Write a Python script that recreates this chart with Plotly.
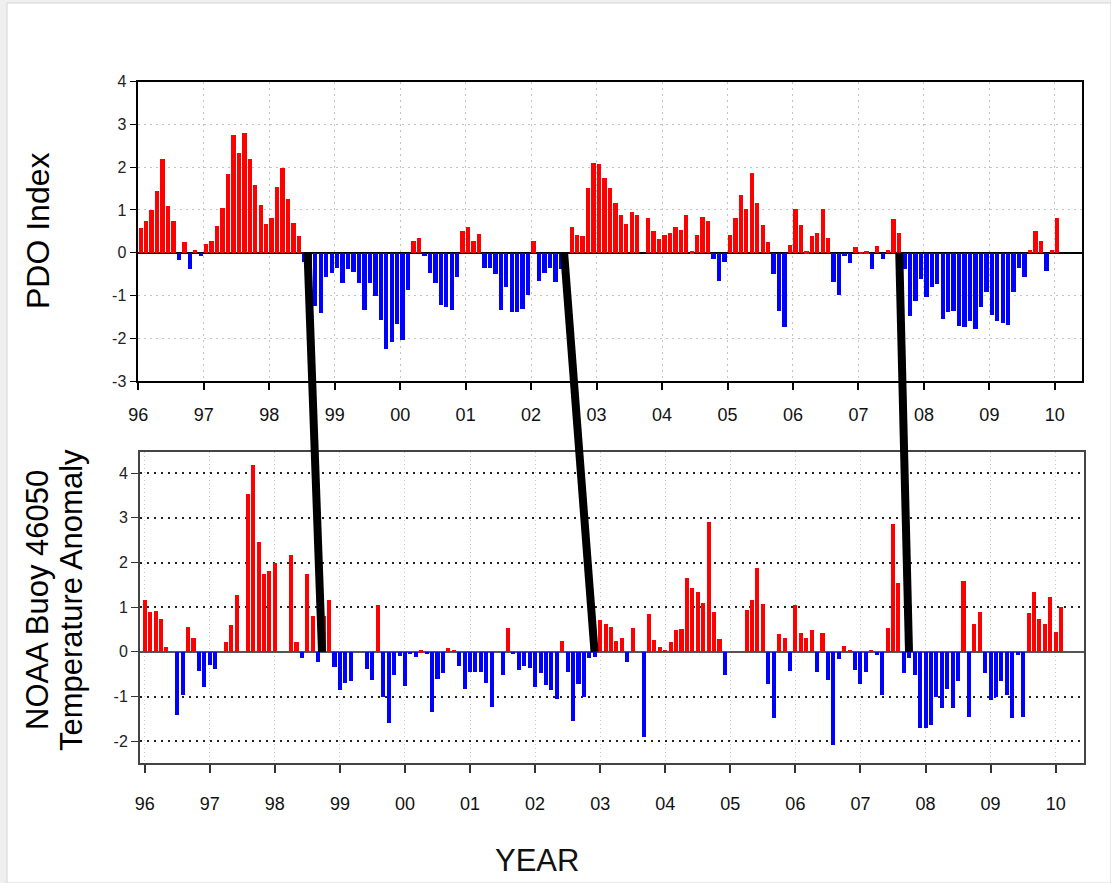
import plotly.graph_objects as go

# ---------------- data ----------------
year_ticks = list(range(1996, 2011))
year_labels = ["96", "97", "98", "99", "00", "01", "02", "03", "04", "05",
               "06", "07", "08", "09", "10"]
pdo_yticks = [-3, -2, -1, 0, 1, 2, 3, 4]
buoy_yticks = [-2, -1, 0, 1, 2, 3, 4]

# PDO index, monthly, Jan 1996 .. Jan 2010
pdo_values = [
    0.59, 0.76, 1.00, 1.45, 2.20, 1.09, 0.75, -0.16, 0.25, -0.37, 0.08, -0.08,   # 1996
    0.22, 0.28, 0.64, 1.06, 1.84, 2.77, 2.34, 2.80, 2.20, 1.60, 1.12, 0.67,      # 1997
    0.83, 1.55, 2.00, 1.27, 0.70, 0.40, -0.20, -0.50, -1.23, -1.41, -0.55, -0.46,  # 1998
    -0.34, -0.70, -0.37, -0.44, -0.70, -1.33, -0.70, -1.00, -1.56, -2.25, -2.07, -1.66,  # 1999
    -2.04, -0.86, 0.28, 0.34, -0.07, -0.46, -0.70, -1.21, -1.27, -1.33, -0.55, 0.52,  # 2000
    0.61, 0.28, 0.45, -0.34, -0.34, -0.49, -1.33, -0.79, -1.39, -1.39, -1.30, -0.98,  # 2001
    0.27, -0.66, -0.46, -0.34, -0.67, -0.37, -0.20, 0.61, 0.43, 0.41, 1.51, 2.10,   # 2002
    2.09, 1.75, 1.51, 1.17, 0.88, 0.67, 0.97, 0.88, 0.00, 0.82, 0.52, 0.32,      # 2003
    0.43, 0.48, 0.61, 0.55, 0.88, 0.04, 0.43, 0.84, 0.75, -0.14, -0.66, -0.20,   # 2004
    0.43, 0.82, 1.35, 1.03, 1.87, 1.17, 0.66, 0.25, -0.48, -1.36, -1.74, 0.19,   # 2005
    1.03, 0.66, 0.04, 0.40, 0.48, 1.03, 0.34, -0.67, -0.98, -0.07, -0.24, 0.13,  # 2006
    0.01, 0.04, -0.38, 0.16, -0.13, 0.08, 0.79, 0.48, -0.38, -1.48, -1.12, -0.61,  # 2007
    -1.02, -0.79, -0.73, -1.54, -1.38, -1.35, -1.71, -1.74, -1.59, -1.77, -1.27, -0.90,  # 2008
    -1.45, -1.59, -1.63, -1.68, -0.91, -0.34, -0.55, 0.08, 0.52, 0.27, -0.43, 0.06,  # 2009
    0.82,                                                                          # 2010
]

# NOAA buoy 46050 temperature anomaly, monthly, Jan 1996 .. Feb 2010 (None = missing)
buoy_values = [
    1.17, 0.89, 0.93, 0.75, 0.12, None, -1.40, -0.96, 0.57, 0.32, -0.41, -0.79,  # 1996
    -0.28, -0.37, None, 0.23, 0.61, 1.29, None, 3.55, 4.20, 2.46, 1.75, 1.81,    # 1997
    2.00, None, None, 2.18, 0.23, -0.13, 1.74, 0.81, -0.21, 0.80, 1.17, -0.34,   # 1998
    -0.84, -0.70, -0.65, None, None, -0.37, -0.63, 1.06, -1.01, -1.59, -0.50, -0.09,  # 1999
    -0.76, -0.05, -0.11, 0.04, -0.04, -1.34, -0.59, -0.47, 0.09, 0.06, -0.31, -0.82,  # 2000
    -0.44, -0.44, -0.44, -0.68, -1.22, None, -0.51, 0.54, -0.04, -0.40, -0.31, -0.36,  # 2001
    -0.79, -0.47, -0.73, -0.84, -1.04, 0.26, -0.44, -1.55, -0.71, -1.01, -0.13, -0.10,  # 2002
    0.72, 0.63, 0.57, 0.25, 0.31, -0.21, 0.54, None, -1.90, 0.86, 0.28, 0.11,    # 2003
    0.06, 0.23, 0.49, 0.51, 1.66, 1.43, 1.34, 1.10, 2.92, 0.89, 0.29, -0.51,     # 2004
    None, None, None, 0.94, 1.16, 1.89, 1.08, -0.71, -1.47, 0.41, 0.32, -0.41,   # 2005
    1.06, 0.43, 0.32, 0.49, -0.44, 0.43, -0.62, -2.07, -0.16, 0.13, 0.06, -0.40,  # 2006
    -0.71, -0.44, 0.06, -0.07, -0.96, 0.54, 2.86, 1.54, -0.47, -0.13, -0.51, -1.69,  # 2007
    -1.69, -1.62, -1.01, -1.25, -0.82, -1.25, -0.64, 1.60, -1.44, 0.63, 0.89, -0.47,  # 2008
    -1.07, -1.01, -0.64, -0.96, -1.47, -0.06, -1.45, 0.87, 1.34, 0.75, 0.63, 1.24,  # 2009
    0.45, 1.01,                                                                    # 2010
]

# connector lines: (year on PDO axis, year on buoy axis)
connector_top_years = [1998.585, 2002.504, 2007.623]
connector_bottom_years = [1998.725, 2002.913, 2007.746]

# ---------------- layout geometry ----------------
W, H = 1111, 883


def px(p):      # page x pixel -> paper fraction
    return p / W


def py(p):      # page y pixel -> paper fraction
    return 1 - p / H


top_xdom = [px(138.3), px(1081.7)]
top_ydom = [py(381.0), py(81.7)]
bot_xdom = [px(140.0), px(1084.3)]
bot_ydom = [py(762.7), py(451.7)]
top_xrange = [1996.0, 2010.41]
top_yrange = [-3, 4]
bot_xrange = [1995.928, 2010.44]
bot_yrange = [-2.48, 4.48]

RED, BLUE = "#ff0000", "#0000ff"

pdo_x = [1996 + (i + 0.5) / 12 for i in range(len(pdo_values))]
buoy_x = [1996 + i / 12 for i in range(len(buoy_values))]


def colors(vals):
    return [RED if (v is not None and v >= 0) else BLUE for v in vals]


fig = go.Figure()
fig.add_trace(go.Bar(x=pdo_x, y=pdo_values, width=0.8 / 12,
                     marker=dict(color=colors(pdo_values), line=dict(width=0)),
                     xaxis="x", yaxis="y", showlegend=False))
fig.add_trace(go.Bar(x=buoy_x, y=buoy_values, width=0.75 / 12,
                     marker=dict(color=colors(buoy_values), line=dict(width=0)),
                     xaxis="x2", yaxis="y2", showlegend=False))


def to_paper(v, rng, dom):
    return dom[0] + (v - rng[0]) / (rng[1] - rng[0]) * (dom[1] - dom[0])


shapes = [
    dict(type="rect", xref="paper", yref="paper", x0=px(7), x1=1.0, y0=0.0, y1=py(3),
         fillcolor="white", line=dict(color="#d4d4d4", width=1), layer="below"),
]
for xt, xb in zip(connector_top_years, connector_bottom_years):
    shapes.append(dict(
        type="line", xref="paper", yref="paper",
        x0=to_paper(xt, top_xrange, top_xdom), y0=to_paper(0, top_yrange, top_ydom),
        x1=to_paper(xb, bot_xrange, bot_xdom), y1=to_paper(0, bot_yrange, bot_ydom),
        line=dict(color="black", width=8)))

FONT = "Liberation Sans, Arial, sans-serif"
tickfont_x = dict(family=FONT, size=18, color="#111")
tickfont_y = dict(family=FONT, size=16, color="#222")

fig.update_layout(
    width=W, height=H, autosize=False,
    margin=dict(l=0, r=0, t=0, b=0, pad=0, autoexpand=False),
    paper_bgcolor="#efefef",
    plot_bgcolor="white",
    bargap=0,
    shapes=shapes,
    xaxis=dict(domain=top_xdom, range=top_xrange, anchor="y", automargin=False,
               tickmode="array", tickvals=year_ticks, ticktext=year_labels,
               ticks="outside", ticklen=7, tickwidth=1.5, tickcolor="black",
               ticklabelstandoff=10, tickfont=tickfont_x,
               showline=True, linecolor="black", linewidth=1.5, mirror=True,
               showgrid=True, gridcolor="#c4c4c4", griddash="2px,4px", gridwidth=1,
               zeroline=False),
    yaxis=dict(domain=top_ydom, range=top_yrange, anchor="x", automargin=False,
               tickmode="array", tickvals=pdo_yticks,
               ticktext=[str(v) for v in pdo_yticks],
               ticks="outside", ticklen=7, tickwidth=1.2, tickcolor="black",
               tickfont=tickfont_y,
               showline=True, linecolor="black", linewidth=1.5, mirror=True,
               showgrid=True, gridcolor="#c4c4c4", griddash="2px,4px", gridwidth=1,
               zeroline=True, zerolinecolor="black", zerolinewidth=1.5),
    xaxis2=dict(domain=bot_xdom, range=bot_xrange, anchor="y2", automargin=False,
                tickmode="array", tickvals=year_ticks, ticktext=year_labels,
                ticks="outside", ticklen=8, tickwidth=1.5, tickcolor="#333",
                ticklabelstandoff=16, tickfont=tickfont_x,
                showline=True, linecolor="#444", linewidth=2, mirror=True,
                showgrid=True, gridcolor="#c8c8c8", griddash="1px,3px", gridwidth=1,
                zeroline=False),
    yaxis2=dict(domain=bot_ydom, range=bot_yrange, anchor="x2", automargin=False,
                tickmode="array", tickvals=buoy_yticks,
                ticktext=[str(v) for v in buoy_yticks],
                ticks="outside", ticklen=7, tickwidth=1.2, tickcolor="#333",
                tickfont=tickfont_y,
                showline=True, linecolor="#444", linewidth=2, mirror=True,
                showgrid=True, gridcolor="#222", griddash="2px,5px", gridwidth=1.5,
                zeroline=True, zerolinecolor="#555", zerolinewidth=1.5),
    annotations=[
        dict(text="PDO Index", xref="paper", yref="paper",
             x=px(38), y=py(231), showarrow=False, textangle=-90,
             font=dict(family=FONT, size=32, color="black"),
             xanchor="center", yanchor="middle"),
        dict(text="NOAA Buoy 46050", xref="paper", yref="paper",
             x=px(37), y=py(600), showarrow=False, textangle=-90,
             font=dict(family=FONT, size=31, color="black"),
             xanchor="center", yanchor="middle"),
        dict(text="Temperature Anomaly", xref="paper", yref="paper",
             x=px(71), y=py(600), showarrow=False, textangle=-90,
             font=dict(family=FONT, size=31, color="black"),
             xanchor="center", yanchor="middle"),
        dict(text="YEAR", xref="paper", yref="paper",
             x=px(537), y=py(860), showarrow=False,
             font=dict(family=FONT, size=31, color="#111"),
             xanchor="center", yanchor="middle"),
    ],
)

fig.write_html("out.html")
